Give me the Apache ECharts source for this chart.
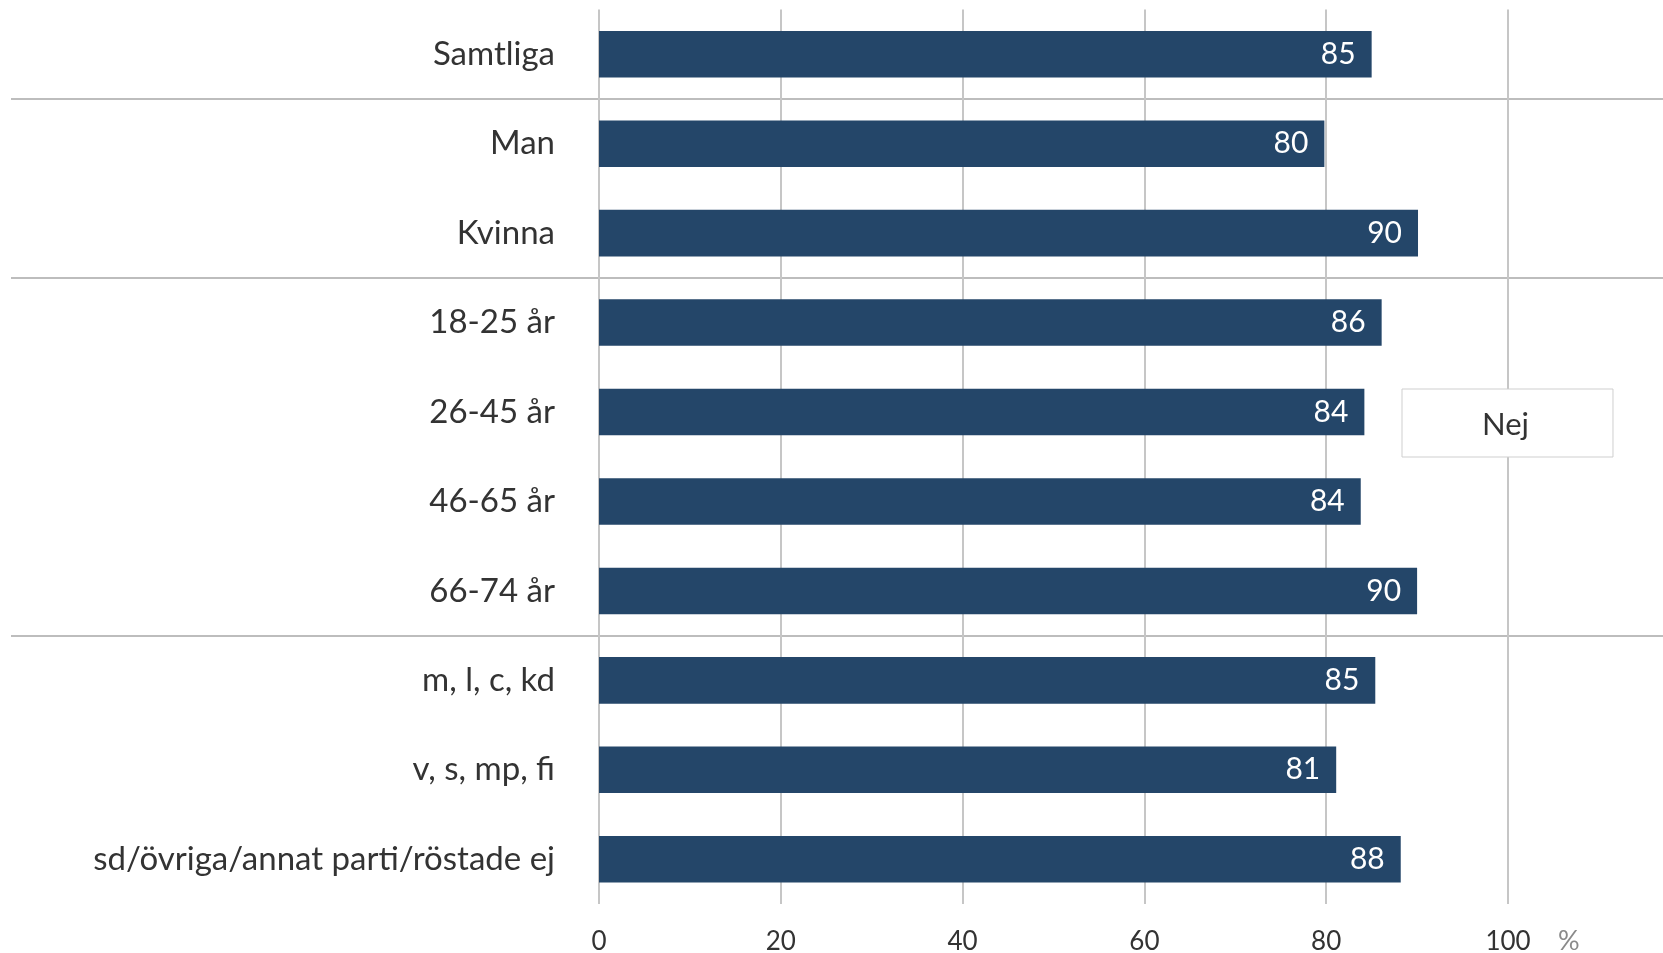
<!DOCTYPE html>
<html>
<head>
<meta charset="utf-8">
<script src="https://cdn.jsdelivr.net/npm/echarts@6/dist/echarts.min.js"></script>
<style>
  html, body { margin: 0; padding: 0; background: #fff; }
  #chart { width: 1663px; height: 953px; }
</style>
</head>
<body>
<div id="chart"></div>
<script>
var categories = ['Samtliga', 'Man', 'Kvinna', '18-25 år', '26-45 år', '46-65 år', '66-74 år',
  'm, l, c, kd', 'v, s, mp, fi', 'sd/övriga/annat parti/röstade ej'];
var nej = [85, 79.8, 90.1, 86.1, 84.2, 83.8, 90, 85.4, 81.1, 88.2];
// group separators sit before these rows
var groupStarts = [1, 3, 7];
var xTicks = [0, 20, 40, 60, 80, 100];

var chart = echarts.init(document.getElementById('chart'));
var font = 'Lato';

var option = {
  animation: false,
  textStyle: { fontFamily: font },
  legend: {
    data: ['Nej'],
    icon: 'none',
    itemWidth: 0,
    itemHeight: 0,
    left: 1402,
    top: 389,
    padding: [20, 84, 16, 75],
    borderColor: '#cfcfcf',
    borderWidth: 1,
    backgroundColor: '#fff',
    textStyle: { fontSize: 31, color: '#333', fontFamily: font, lineHeight: 32 }
  },
  grid: [
    { left: 599, right: 155, top: 9.5, bottom: 49, outerBoundsMode: 'none' },
    { left: 11, right: 0, top: 9.5, bottom: 49, outerBoundsMode: 'none' }
  ],
  xAxis: [
    {
      gridIndex: 0,
      type: 'value',
      min: 0,
      max: 100,
      interval: 20,
      axisLine: { show: false },
      axisTick: { show: false },
      splitLine: { show: true, lineStyle: { color: '#c6c6c6', width: 2 } },
      axisLabel: {
        margin: 25,
        fontSize: 26,
        color: '#333',
        fontFamily: font,
        formatter: function (v) { return xTicks.indexOf(v) >= 0 ? String(v) : ''; }
      },
      name: '%',
      nameLocation: 'end',
      nameGap: 50,
      nameMoveOverlap: false,
      nameTextStyle: {
        fontSize: 27, color: '#8a8a8a', fontFamily: font,
        verticalAlign: 'top', padding: [24, 0, 0, 0]
      }
    },
    { gridIndex: 1, type: 'value', show: false }
  ],
  yAxis: [
    {
      gridIndex: 0,
      type: 'category',
      data: categories,
      inverse: true,
      axisLine: { show: false },
      axisTick: { show: false },
      axisLabel: { margin: 44, fontSize: 33, color: '#333', fontFamily: font }
    },
    {
      gridIndex: 1,
      type: 'category',
      data: categories,
      inverse: true,
      axisLine: { show: false },
      axisTick: { show: false },
      axisLabel: { show: false },
      splitLine: {
        show: true,
        showMinLine: true,
        showMaxLine: false,
        interval: function (index) { return groupStarts.indexOf(index) >= 0; },
        lineStyle: { color: '#bdbdbd', width: 2 }
      }
    }
  ],
  series: [
    {
      name: 'Nej',
      type: 'bar',
      xAxisIndex: 0,
      yAxisIndex: 0,
      data: nej,
      barWidth: '52%',
      itemStyle: { color: '#244669' },
      label: {
        show: true,
        position: 'insideRight',
        distance: 16,
        color: '#fff',
        fontSize: 30,
        fontFamily: font,
        formatter: function (p) { return Math.round(p.value); }
      }
    }
  ]
};

chart.setOption(option);
</script>
</body>
</html>
